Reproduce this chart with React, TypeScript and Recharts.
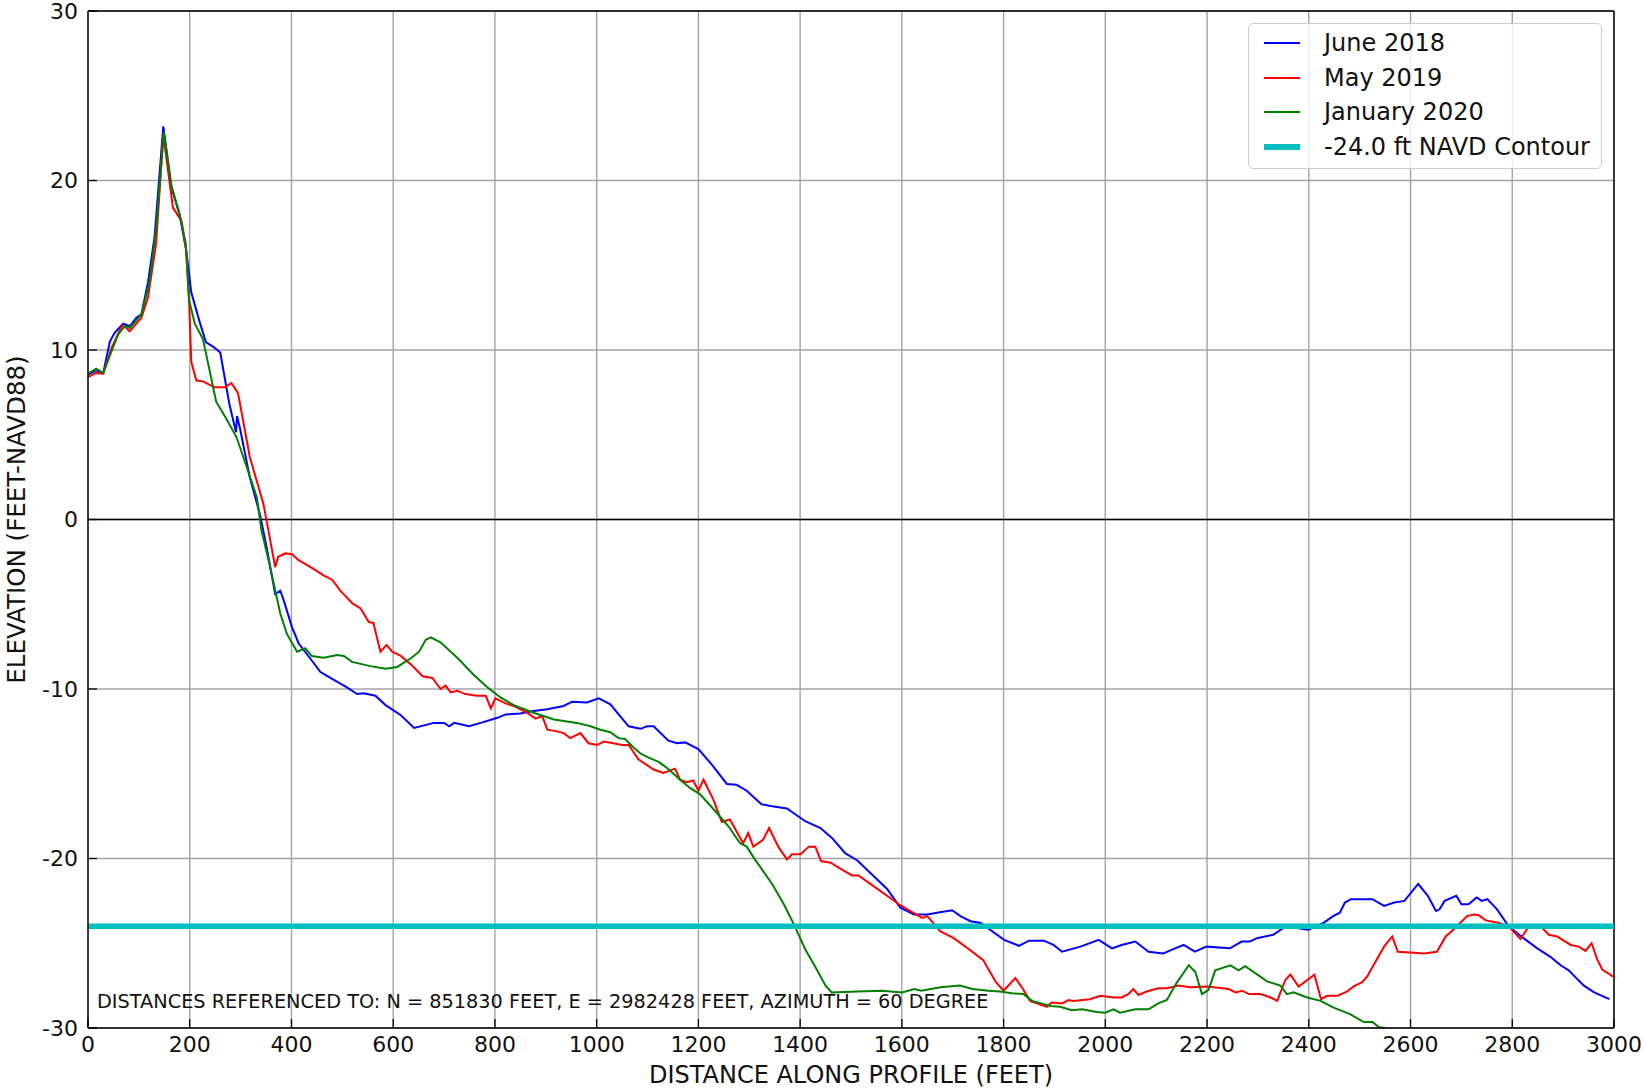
import { CartesianGrid, Line, LineChart, ReferenceLine, XAxis, YAxis } from 'recharts';

const FONT = '"DejaVu Sans", Verdana, sans-serif';

const xTicks = [0, 200, 400, 600, 800, 1000, 1200, 1400, 1600, 1800, 2000, 2200, 2400, 2600, 2800, 3000];
const yTicks = [-30, -20, -10, 0, 10, 20, 30];

const juneDist = [
  0, 16, 30, 43, 52, 69, 82, 95, 105, 118, 131, 148, 164, 180, 193, 203, 220, 232, 246, 260, 278, 291, 293, 299,
  318, 338, 351, 368, 378, 384, 401, 414, 437, 457, 480, 509, 529, 542, 565, 585, 615, 641, 680, 700, 710, 720,
  749, 772, 805, 821, 850, 876, 903, 935, 952, 981, 1004, 1027, 1046, 1063, 1086, 1099, 1112, 1141, 1158, 1174,
  1200, 1226, 1256, 1275, 1295, 1324, 1342, 1374, 1410, 1440, 1463, 1489, 1512, 1571, 1597, 1624, 1650, 1669,
  1699, 1715, 1735, 1755, 1801, 1830, 1850, 1879, 1898, 1915, 1951, 1987, 2013, 2032, 2059, 2085, 2114, 2137,
  2154, 2176, 2199, 2245, 2268, 2284, 2298, 2330, 2350, 2376, 2399, 2429, 2448, 2461, 2471, 2483, 2525, 2548,
  2568, 2588, 2615, 2634, 2650, 2657, 2667, 2690, 2700, 2714, 2730, 2740, 2751, 2770, 2793, 2822, 2849, 2875,
  2895, 2911, 2924, 2941, 2961, 2991,
];
const juneElev = [
  8.55, 8.8, 8.65, 10.5, 11.0, 11.55, 11.4, 11.9, 12.1, 14.0, 16.7, 23.2, 19.6, 18.0, 15.9, 13.4, 11.6, 10.45, 10.2,
  9.85, 6.8, 5.15, 6.1, 5.35, 2.5, 0.3, -1.6, -4.4, -4.2, -4.7, -6.35, -7.3, -8.2, -9.0, -9.4, -9.9, -10.3, -10.25,
  -10.4, -10.95, -11.55, -12.3, -12.0, -12.0, -12.2, -12.0, -12.2, -12.0, -11.7, -11.5, -11.45, -11.3, -11.2, -11.0,
  -10.75, -10.8, -10.55, -10.9, -11.6, -12.2, -12.35, -12.2, -12.2, -13.05, -13.2, -13.15, -13.55, -14.45, -15.6,
  -15.65, -16.0, -16.8, -16.9, -17.05, -17.8, -18.2, -18.8, -19.7, -20.1, -21.8, -22.9, -23.3, -23.3, -23.2,
  -23.05, -23.4, -23.7, -23.8, -24.8, -25.15, -24.85, -24.85, -25.1, -25.5, -25.2, -24.8, -25.3, -25.1, -24.9,
  -25.5, -25.6, -25.3, -25.1, -25.5, -25.2, -25.3, -24.9, -24.9, -24.7, -24.5, -24.1, -24.1, -24.2, -23.8, -23.4,
  -23.2, -22.6, -22.4, -22.4, -22.8, -22.6, -22.5, -21.5, -22.2, -23.1, -23.0, -22.5, -22.2, -22.7, -22.7, -22.3,
  -22.5, -22.4, -23.0, -24.0, -24.7, -25.3, -25.8, -26.3, -26.6, -27.0, -27.5, -27.9, -28.3,
];

const mayDist = [
  0, 16, 30, 46, 66, 72, 82, 105, 118, 134, 148, 167, 184, 193, 199, 203, 213, 226, 249, 269, 282, 295, 318, 345,
  351, 368, 374, 388, 401, 414, 437, 463, 480, 496, 520, 536, 552, 561, 575, 587, 598, 615, 635, 658, 677, 693,
  703, 713, 726, 742, 765, 782, 792, 801, 821, 837, 863, 880, 893, 903, 922, 935, 948, 968, 984, 1001, 1014, 1033,
  1050, 1063, 1082, 1112, 1131, 1154, 1164, 1177, 1190, 1200, 1210, 1229, 1246, 1262, 1288, 1298, 1308, 1327,
  1339, 1357, 1374, 1384, 1401, 1417, 1430, 1441, 1460, 1479, 1502, 1515, 1538, 1571, 1594, 1617, 1640, 1650,
  1676, 1702, 1732, 1760, 1785, 1800, 1823, 1836, 1852, 1885, 1895, 1915, 1928, 1937, 1970, 1990, 2016, 2032,
  2045, 2055, 2065, 2081, 2104, 2121, 2144, 2167, 2200, 2243, 2256, 2269, 2282, 2305, 2325, 2338, 2354, 2364,
  2380, 2411, 2424, 2436, 2456, 2475, 2488, 2505, 2515, 2528, 2548, 2564, 2575, 2600, 2626, 2652, 2669, 2688,
  2711, 2725, 2734, 2748, 2774, 2793, 2816, 2833, 2859, 2872, 2888, 2915, 2931, 2944, 2956, 2967, 2977, 3000,
];
const mayElev = [
  8.4, 8.65, 8.6, 10.1, 11.4, 11.4, 11.1, 11.9, 13.1, 16.3, 22.7, 18.4, 17.6, 15.9, 12.7, 9.3, 8.2, 8.15, 7.8, 7.8,
  8.05, 7.45, 3.7, 0.9, -0.05, -2.8, -2.2, -2.0, -2.05, -2.4, -2.8, -3.3, -3.55, -4.2, -4.95, -5.25, -6.05, -6.1,
  -7.8, -7.4, -7.8, -8.05, -8.55, -9.25, -9.35, -10.0, -9.8, -10.2, -10.1, -10.3, -10.4, -10.4, -11.15, -10.55,
  -10.85, -11.0, -11.4, -11.75, -11.6, -12.4, -12.5, -12.6, -12.9, -12.6, -13.2, -13.3, -13.1, -13.2, -13.3,
  -13.3, -14.15, -14.75, -14.95, -14.7, -15.35, -15.5, -15.4, -16.0, -15.35, -16.5, -17.85, -17.7, -19.1, -18.5,
  -19.3, -18.9, -18.2, -19.3, -20.05, -19.75, -19.75, -19.3, -19.3, -20.15, -20.25, -20.6, -21.0, -21.0, -21.5,
  -22.2, -22.7, -23.1, -23.5, -23.4, -24.3, -24.7, -25.35, -26.0, -27.3, -27.8, -27.05, -27.6, -28.4, -28.75,
  -28.5, -28.55, -28.35, -28.4, -28.3, -28.1, -28.2, -28.2, -28.0, -27.7, -28.05, -27.85, -27.65, -27.65, -27.5,
  -27.6, -27.55, -27.7, -27.9, -27.8, -28.0, -28.0, -28.2, -28.4, -27.15, -26.85, -27.55, -26.85, -28.3, -28.1,
  -28.1, -27.85, -27.55, -27.3, -26.95, -26.25, -25.2, -24.6, -25.5, -25.55, -25.6, -25.5, -24.6, -24.1, -23.4,
  -23.3, -23.35, -23.65, -23.8, -24.0, -24.75, -24.0, -24.1, -24.5, -24.6, -25.1, -25.2, -25.45, -25.0, -25.95,
  -26.55, -27.0,
];

const janDist = [
  0, 16, 30, 46, 59, 72, 82, 105, 121, 134, 149, 164, 180, 192, 199, 210, 226, 252, 272, 292, 312, 332, 341, 355,
  378, 391, 411, 427, 440, 463, 490, 503, 519, 555, 585, 608, 634, 651, 664, 674, 693, 729, 756, 785, 811, 837,
  876, 916, 961, 988, 1007, 1027, 1043, 1056, 1069, 1086, 1102, 1122, 1138, 1164, 1184, 1203, 1236, 1259, 1282,
  1295, 1311, 1345, 1368, 1388, 1410, 1430, 1450, 1462, 1512, 1562, 1600, 1625, 1638, 1676, 1714, 1739, 1770,
  1793, 1816, 1839, 1856, 1892, 1911, 1934, 1954, 1983, 2000, 2016, 2029, 2059, 2085, 2104, 2121, 2140, 2164,
  2177, 2190, 2203, 2216, 2246, 2262, 2275, 2318, 2344, 2357, 2370, 2397, 2423, 2449, 2482, 2508, 2525, 2538,
  2551,
];
const janElev = [
  8.6, 8.9, 8.65, 9.9, 10.9, 11.4, 11.3, 12.1, 14.0, 17.15, 22.85, 19.7, 18.0, 16.3, 12.9, 11.55, 10.65, 6.95,
  5.95, 4.85, 3.1, 1.3, -0.65, -2.4, -5.55, -6.75, -7.8, -7.6, -8.05, -8.15, -8.0, -8.05, -8.4, -8.65, -8.8, -8.7,
  -8.2, -7.8, -7.1, -6.95, -7.25, -8.25, -9.1, -9.9, -10.5, -10.95, -11.4, -11.8, -12.0, -12.2, -12.4, -12.55,
  -12.9, -12.95, -13.35, -13.8, -14.05, -14.3, -14.65, -15.35, -15.85, -16.2, -17.3, -18.1, -19.1, -19.3, -20.05,
  -21.5, -22.7, -23.9, -25.35, -26.4, -27.5, -27.9, -27.85, -27.8, -27.9, -27.7, -27.8, -27.6, -27.5, -27.7,
  -27.8, -27.85, -27.95, -28.0, -28.4, -28.7, -28.75, -28.95, -28.9, -29.05, -29.1, -28.9, -29.1, -28.9, -28.9,
  -28.55, -28.35, -27.35, -26.3, -26.7, -28.0, -27.75, -26.6, -26.3, -26.6, -26.35, -27.25, -27.5, -28.0, -27.9,
  -28.2, -28.4, -28.8, -29.2, -29.65, -29.65, -29.95, -30.0,
];

const contourLevel = -24;
const contourDist = [0, 3000];

const toPoints = (dist: number[], elev: number[]) => dist.map((x, i) => ({ x, y: elev[i] }));

const series = [
  { name: 'June 2018', color: '#0000ff', width: 2, data: toPoints(juneDist, juneElev) },
  { name: 'May 2019', color: '#ff0000', width: 2, data: toPoints(mayDist, mayElev) },
  { name: 'January 2020', color: '#008000', width: 2, data: toPoints(janDist, janElev) },
  {
    name: '-24.0 ft NAVD Contour',
    color: '#00bfbf',
    width: 5.5,
    data: toPoints(contourDist, contourDist.map(() => contourLevel)),
  },
];

const TICK_GAP = 8;

function XTick({ x, y, payload }: any) {
  return (
    <g>
      <line x1={x} x2={x} y1={y - TICK_GAP} y2={y - TICK_GAP - 9} stroke="#000" strokeWidth={1.3} />
      <text x={x} y={y} dy="0.74em" textAnchor="middle" fontSize={22} fontFamily={FONT} fill="#111">
        {payload.value}
      </text>
    </g>
  );
}

function YTick({ x, y, payload }: any) {
  return (
    <g>
      <line x1={x + 10} x2={x + 19} y1={y} y2={y} stroke="#000" strokeWidth={1.3} />
      <text x={x} y={y} textAnchor="end" dominantBaseline="central" fontSize={22} fontFamily={FONT} fill="#111">
        {payload.value}
      </text>
    </g>
  );
}

function YTitle({ viewBox }: any) {
  const cx = 16;
  const cy = viewBox.y + viewBox.height / 2;
  return (
    <text
      x={cx}
      y={cy}
      transform={`rotate(-90 ${cx} ${cy})`}
      textAnchor="middle"
      dominantBaseline="central"
      fontSize={24.5}
      fontFamily={FONT}
      fill="#111"
    >
      ELEVATION (FEET-NAVD88)
    </text>
  );
}

function XTitle({ viewBox }: any) {
  return (
    <text
      x={viewBox.x + viewBox.width / 2}
      y={1075}
      textAnchor="middle"
      dominantBaseline="central"
      fontSize={24}
      fontFamily={FONT}
      fill="#111"
    >
      DISTANCE ALONG PROFILE (FEET)
    </text>
  );
}

export default function App() {
  return (
    <div style={{ position: 'relative', width: 1643, height: 1089, background: '#fff' }}>
      <style>{'body{margin:0}'}</style>
      <LineChart width={1643} height={1089} margin={{ top: 11, right: 29, bottom: 0, left: 0 }}>
        <CartesianGrid stroke="#a3a3a3" strokeWidth={1.4} />
        <XAxis
          type="number"
          dataKey="x"
          domain={[0, 3000]}
          ticks={xTicks}
          interval={0}
          allowDataOverflow
          height={61}
          axisLine={{ stroke: '#000', strokeWidth: 1.4 }}
          tickLine={false}
          tickSize={0}
          tickMargin={TICK_GAP}
          tick={<XTick />}
          label={<XTitle />}
        />
        <YAxis
          type="number"
          dataKey="y"
          domain={[-30, 30]}
          ticks={yTicks}
          interval={0}
          allowDataOverflow
          width={88}
          axisLine={{ stroke: '#000', strokeWidth: 1.4 }}
          tickLine={false}
          tickSize={0}
          tickMargin={10}
          tick={<YTick />}
          label={<YTitle />}
        />
        <ReferenceLine y={0} stroke="#000" strokeWidth={1.5} />
        <ReferenceLine y={30} stroke="#000" strokeWidth={1.4} />
        <ReferenceLine x={3000} stroke="#000" strokeWidth={1.4} />
        {series.map((s) => (
          <Line
            key={s.name}
            data={s.data}
            dataKey="y"
            name={s.name}
            type="linear"
            stroke={s.color}
            strokeWidth={s.width}
            dot={false}
            activeDot={false}
            isAnimationActive={false}
          />
        ))}
      </LineChart>
      <div
        style={{
          position: 'absolute',
          left: 97,
          top: 1001,
          transform: 'translateY(-50%)',
          fontFamily: FONT,
          fontSize: 19.3,
          color: '#111',
          whiteSpace: 'nowrap',
        }}
      >
        DISTANCES REFERENCED TO: N = 851830 FEET, E = 2982428 FEET, AZIMUTH = 60 DEGREE
      </div>
      <div
        style={{
          position: 'absolute',
          left: 1248,
          top: 23,
          width: 352,
          height: 142,
          border: '1px solid #cccccc',
          borderRadius: 5,
          background: 'rgba(255,255,255,0.8)',
          paddingTop: 2,
          boxSizing: 'content-box',
        }}
      >
        {series.map((s) => (
          <div key={s.name} style={{ position: 'relative', height: 34.5 }}>
            <div
              style={{
                position: 'absolute',
                left: 15,
                top: 17.25 - s.width / 2,
                width: 36,
                height: s.width,
                background: s.color,
              }}
            />
            <div
              style={{
                position: 'absolute',
                left: 75,
                top: 0,
                lineHeight: '34.5px',
                fontFamily: FONT,
                fontSize: 24,
                color: '#111',
                whiteSpace: 'nowrap',
              }}
            >
              {s.name}
            </div>
          </div>
        ))}
      </div>
    </div>
  );
}
